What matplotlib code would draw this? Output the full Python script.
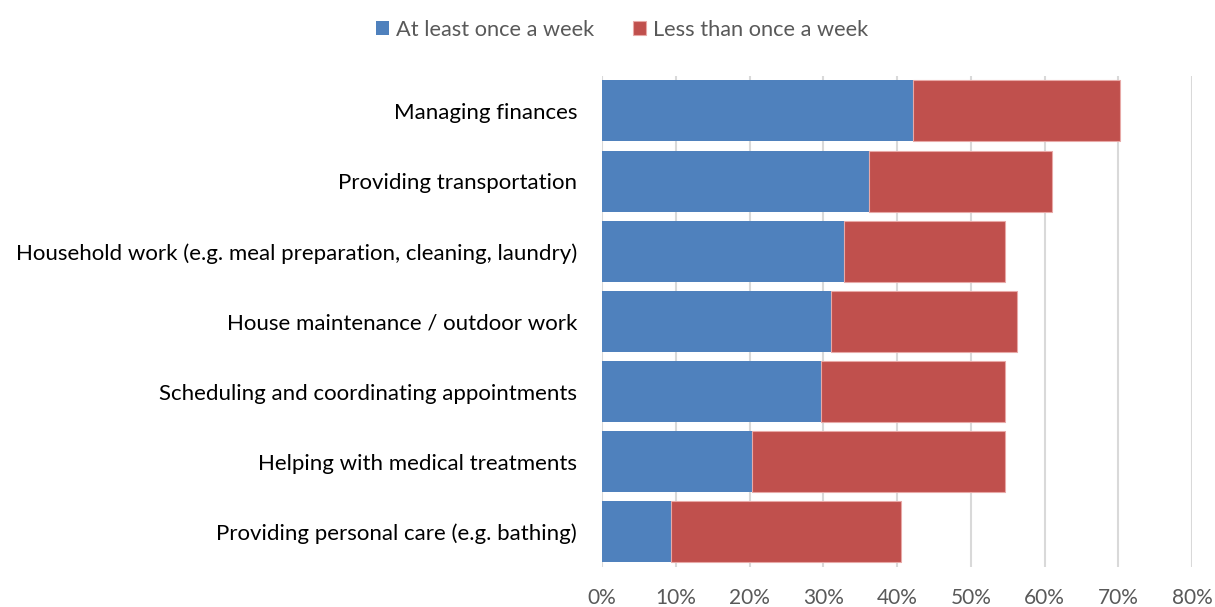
import matplotlib.pyplot as plt
import numpy as np
from matplotlib.ticker import FuncFormatter

plt.rcParams['font.family'] = ['Lato', 'DejaVu Sans']

categories = ['Managing finances',
              'Providing transportation',
              'Household work (e.g. meal preparation, cleaning, laundry)',
              'House maintenance / outdoor work',
              'Scheduling and coordinating appointments',
              'Helping with medical treatments',
              'Providing personal care (e.g. bathing)']
weekly = [42.1, 36.2, 32.8, 31.1, 29.7, 20.3, 9.3]
less_weekly = [28.2, 24.8, 21.8, 25.1, 24.9, 34.3, 31.3]
series_names = ['At least once a week', 'Less than once a week']

blue = '#4F81BD'
red = '#C0504D'
grey = '#595959'

fig = plt.figure(figsize=(12.15, 6.07), dpi=100)
# plot area: x 602..1192 px, y 76..567 px
ax = fig.add_axes([0.4955, 0.066, 0.4856, 0.809])

y = np.arange(len(categories))
ax.barh(y, weekly, height=0.87, color=blue, label=series_names[0], zorder=3)
ax.barh(y, less_weekly, left=weekly, height=0.87, color=red,
        edgecolor='#E8A9A7', linewidth=0.8, label=series_names[1], zorder=3)

ax.set_ylim(len(categories) - 0.5, -0.5)
ax.set_xlim(0, 80)
ax.set_xticks(np.arange(0, 81, 10))
ax.xaxis.set_major_formatter(FuncFormatter(lambda v, p: '%d%%' % v))
ax.set_yticks(y)
ax.set_yticklabels(categories, fontsize=16, color='black')
ax.tick_params(axis='x', length=0, labelsize=15, labelcolor=grey, pad=15)
ax.tick_params(axis='y', length=0, pad=18)
ax.grid(axis='x', color='#D9D9D9', linewidth=1.5, zorder=0)
for s in ax.spines.values():
    s.set_visible(False)

fig.legend(loc='upper center', bbox_to_anchor=(0.512, 1.0), ncol=2,
           frameon=False, fontsize=15.7, labelcolor=grey, handlelength=0.6,
           handleheight=0.6, handletextpad=0.32, columnspacing=1.8)

fig.savefig('out.png', dpi=100)
